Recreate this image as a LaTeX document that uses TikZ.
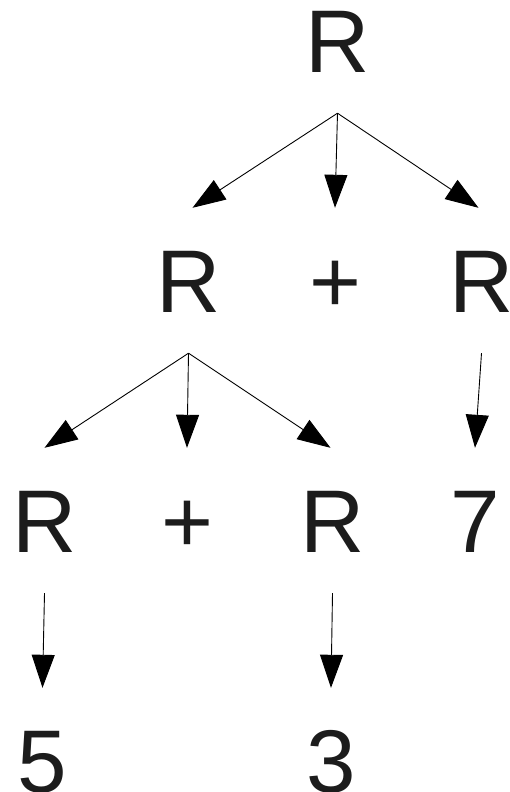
\documentclass[tikz,border=0pt]{standalone}
\usepackage{fontspec}
\setmainfont{Liberation Sans}
\usetikzlibrary{arrows.meta}
\definecolor{txt}{RGB}{28,28,28}
\begin{document}
\begin{tikzpicture}[x=1pt,y=-1pt,
  sym/.style={anchor=base,inner sep=0pt,text height=64pt,text depth=0pt,
    text=txt,font=\fontsize{89}{89}\selectfont},
  arr/.style={line width=0.9pt,-{Triangle[length=33pt,width=23pt]}}]
\useasboundingbox (0,0) rectangle (509,792);
% nodes
\node[sym] (r0) at (337.5,72) {R};
\node[sym] (r1) at (188.5,312) {R};
\node[sym] (p1) at (335,312) {+};
\node[sym] (r2) at (481.5,312) {R};
\node[sym] (r3) at (44.5,552) {R};
\node[sym] (p2) at (187,552) {+};
\node[sym] (r4) at (332.5,552) {R};
\node[sym] (n7) at (475,552) {7};
\node[sym] (n5) at (42.5,792) {5};
\node[sym] (n3) at (331,792) {3};
% forks
\coordinate (f0) at ([yshift=-41pt]r0.south);
\coordinate (f1) at ([yshift=-41pt]r1.south);
% connectors
\draw[arr] (f0) -- ([xshift=4pt,yshift=40pt]r1.north);
\draw[arr] (f0) -- ([yshift=40pt]p1.north);
\draw[arr] (f0) -- ([xshift=-3pt,yshift=40pt]r2.north);
\draw[arr] ([yshift=-41pt]r2.south) -- ([yshift=40pt]n7.north);
\draw[arr] (f1) -- ([yshift=40pt]r3.north);
\draw[arr] (f1) -- ([yshift=40pt]p2.north);
\draw[arr] (f1) -- ([xshift=-2pt,yshift=40pt]r4.north);
\draw[arr] ([yshift=-41pt]r3.south) -- ([yshift=40pt]n5.north);
\draw[arr] ([yshift=-41pt]r4.south) -- ([yshift=40pt]n3.north);
\end{tikzpicture}
\end{document}
